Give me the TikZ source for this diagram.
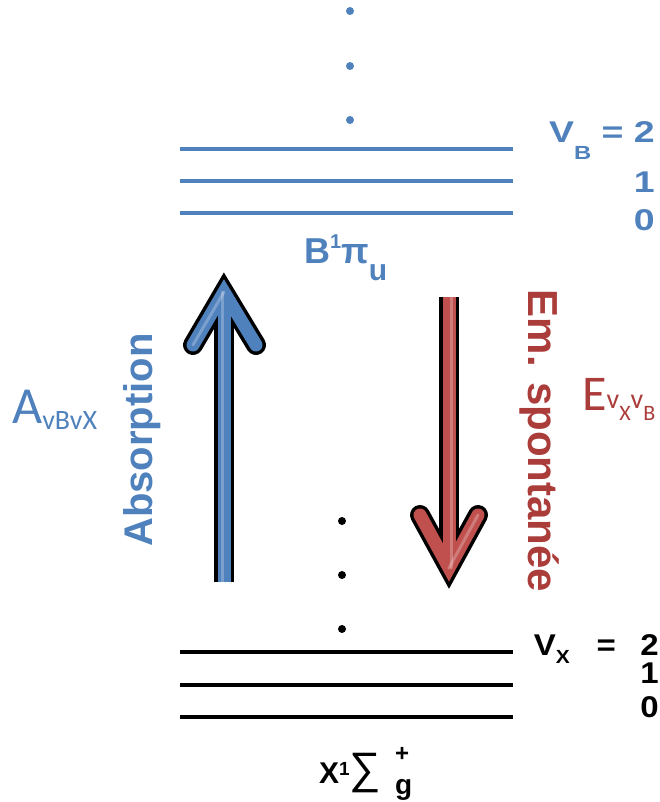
\documentclass[tikz,border=0pt]{standalone}
\usepackage{fontspec}
\usepackage{graphicx}
\setmainfont{Liberation Sans}
\newfontfamily\calibri{Carlito}
\definecolor{bstate}{HTML}{4F81BD}
\definecolor{emred}{HTML}{C0504D}
\definecolor{emtext}{RGB}{170,60,58}
\newcommand{\fs}[1]{\fontsize{#1}{#1}\selectfont}

\begin{document}
\begin{tikzpicture}[x=1pt, y=-1pt,
    level/.style={line width=4pt, draw=#1},
    vdot/.style={circle, fill=#1, inner sep=0pt, minimum size=8pt},
    vnum/.style={anchor=base east, inner sep=0pt, font=\fs{30}\bfseries, text=#1},
    rim/.style={line width=20pt, draw=black, line join=miter},
    core/.style={line width=13pt, draw=#1, line join=miter},
    shine/.style={line width=3pt, draw=white, opacity=0.25, line cap=round},
    vtitle/.style={inner sep=0pt, anchor=base, font=\fs{40}\bfseries, text=#1},
    rate/.style={inner sep=0pt, anchor=base west, font=\calibri, text=#1}
]
    \useasboundingbox (0,0) rectangle (660,802);

    % Niveaux vibrationnels de l'état B
    \node[vdot=bstate] (bd1) at (350,11) {};
    \node[vdot=bstate] (bd2) at (350,66) {};
    \node[vdot=bstate] (bd3) at (350,120) {};
    \draw[level=bstate] (180,149) -- (513,149);
    \draw[level=bstate] (180,181) -- (513,181);
    \draw[level=bstate] (180,213) -- (513,213);
    \node[vnum=bstate] (vb2) at (655,143) {\scalebox{1.25}[1]{V\raisebox{-17pt}{\fs{19}B} = 2}};
    \node[vnum=bstate] (vb1) at (655,193) {\scalebox{1.25}[1]{1}};
    \node[vnum=bstate] (vb0) at (655,230) {\scalebox{1.25}[1]{0}};
    \node[anchor=base west, inner sep=0pt, text=bstate, font=\fs{36}\bfseries] (bname) at (304,263)
        {B\raisebox{15pt}{\fs{20}1}π\raisebox{-17pt}{\fs{30}u}};

    % Niveaux vibrationnels de l'état X
    \node[vdot=black] (xd1) at (342,521) {};
    \node[vdot=black] (xd2) at (342,575) {};
    \node[vdot=black] (xd3) at (342,629) {};
    \draw[level=black] (180,652) -- (513,652);
    \draw[level=black] (180,685) -- (513,685);
    \draw[level=black] (180,717) -- (513,717);
    \node[vnum=black] (vx2) at (659,655)
        {\scalebox{1.1}[1]{V\raisebox{-8pt}{\fs{19}X}\hspace{16pt} = \hspace{14pt}2}};
    \node[vnum=black] (vx1) at (659,683) {\scalebox{1.1}[1]{1}};
    \node[vnum=black] (vx0) at (659,717) {\scalebox{1.1}[1]{0}};
    \node[anchor=base west, inner sep=0pt, font=\fs{30}\bfseries] (xname) at (319,783)
        {X\raisebox{8pt}{\fs{19}1}{\mdseries\fs{44}∑}\hspace{14pt}\raisebox{22pt}{\rlap{\fs{24}+}}\raisebox{-11pt}{\fs{28}g}};

    % Flèche d'absorption
    \coordinate (abot) at (224,582);
    \coordinate (atip) at (224,292);
    \coordinate (aleft) at (193,345);
    \coordinate (aright) at (256,345);
    \draw[rim] (abot) -- (atip);
    \draw[rim, line cap=round] (aleft) -- (atip) -- (aright);
    \draw[core=bstate] (abot) -- (atip);
    \draw[core=bstate, line cap=round] (aleft) -- (atip) -- (aright);
    \draw[shine] ([xshift=-2pt]abot) -- ([xshift=-2pt]atip);
    \draw[shine] (aleft) -- (atip);

    % Flèche d'émission spontanée
    \coordinate (etop) at (449,297);
    \coordinate (etip) at (449,568);
    \coordinate (eleft) at (420,515);
    \coordinate (eright) at (478,515);
    \draw[rim] (etop) -- (etip);
    \draw[rim, line cap=round] (eleft) -- (etip) -- (eright);
    \draw[core=emred] (etop) -- (etip);
    \draw[core=emred, line cap=round] (eleft) -- (etip) -- (eright);
    \draw[shine] ([xshift=2pt]etop) -- ([xshift=2pt]etip);
    \draw[shine] (eright) -- (etip);

    % Textes des transitions
    \node[vtitle=bstate, rotate=90] (abs) at (152,440) {Absorption};
    \node[vtitle=emtext, rotate=-90, font=\fs{42}\bfseries] (ems) at (528,441) {Em. spontanée};
    \node[rate=bstate] (arate) at (12,423) {\fs{52}A\raisebox{-6pt}{\fs{28}vBvX}};
    \node[rate=emtext] (erate) at (582,410)
        {\fs{50}E\raisebox{2pt}{\fs{28}v}\raisebox{-10pt}{\fs{22}X}\raisebox{2pt}{\fs{28}v}\raisebox{-10pt}{\fs{22}B}};
\end{tikzpicture}
\end{document}
